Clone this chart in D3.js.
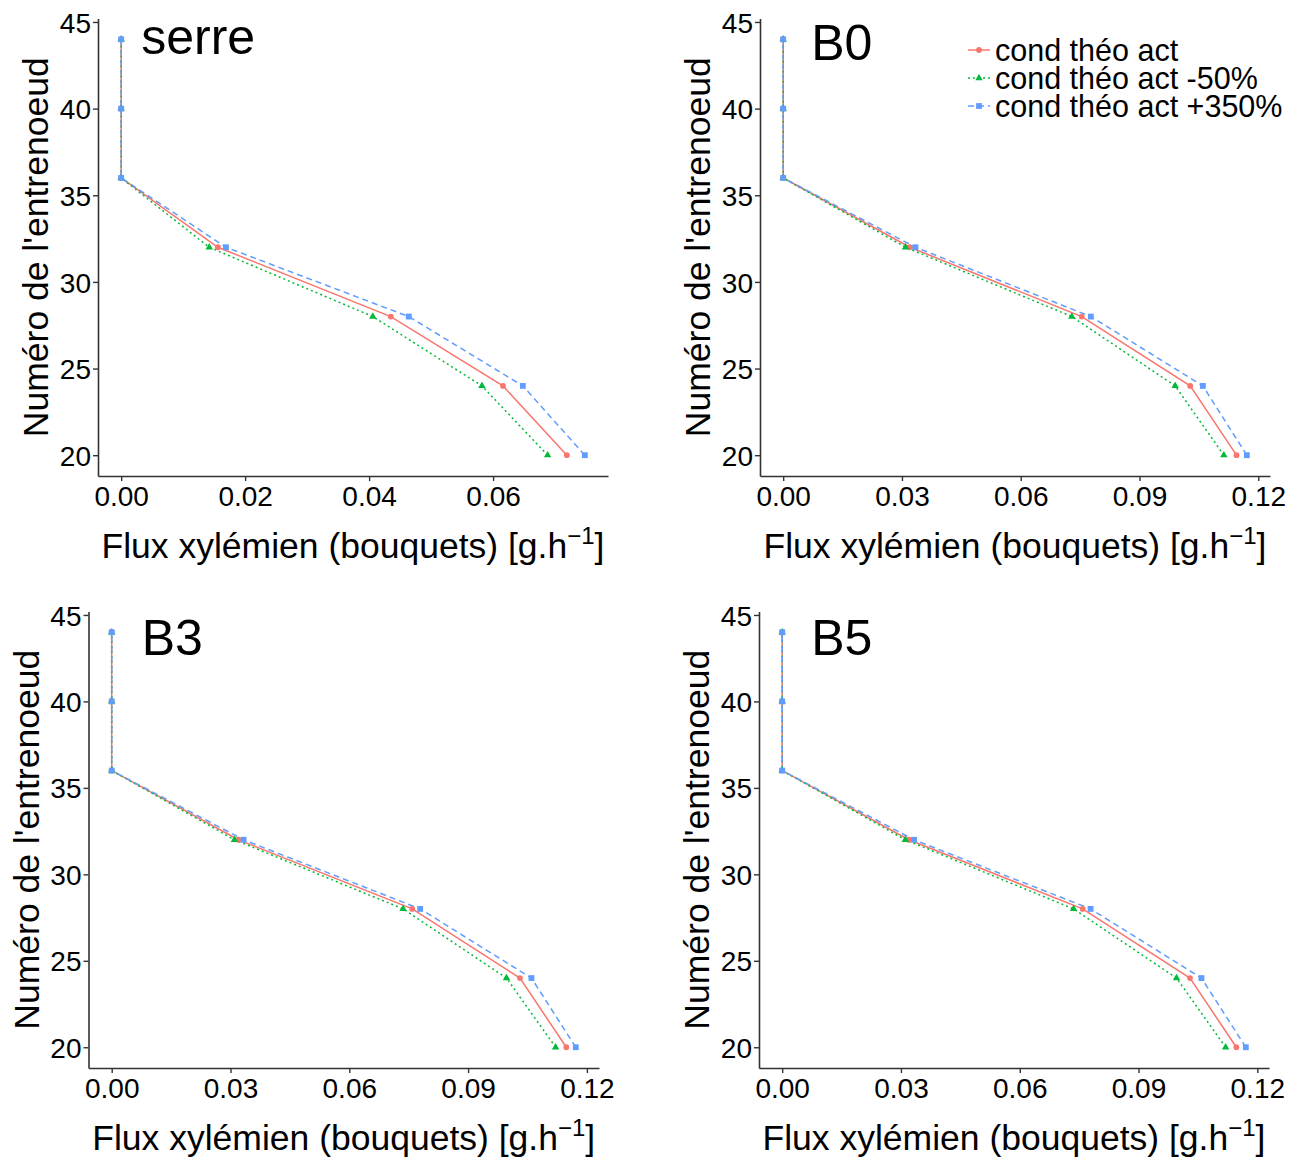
<!DOCTYPE html>
<html>
<head>
<meta charset="utf-8">
<script src="https://cdn.jsdelivr.net/npm/d3@7"></script>
<style>
  html, body { margin: 0; padding: 0; background: #fff; }
  svg { display: block; }
  text { font-family: "Liberation Sans", Arial, Helvetica, sans-serif; fill: #000; }
</style>
</head>
<body>
<svg id="chart" width="1298" height="1158"></svg>
<script>
// ---------- data ----------
const nodes = [20, 24, 28, 32, 36, 40, 44];
const seriesNames = ["cond théo act", "cond théo act -50%", "cond théo act +350%"];
const panelNames = ["serre", "B0", "B3", "B5"];

// x values (Flux xylémien) for each node, per panel and series
const serre_act   = [0.0719, 0.0616, 0.0435, 0.0156, 0, 0, 0];
const serre_m50   = [0.0688, 0.0582, 0.0406, 0.0142, 0, 0, 0];
const serre_p350  = [0.0748, 0.0648, 0.0464, 0.0169, 0, 0, 0];

const B0_act  = [0.1145, 0.1028, 0.0754, 0.0320, 0, 0, 0];
const B0_m50  = [0.1113, 0.0990, 0.0729, 0.0309, 0, 0, 0];
const B0_p350 = [0.1171, 0.1060, 0.0777, 0.0334, 0, 0, 0];

const B3_act  = [0.1148, 0.1031, 0.0759, 0.0320, 0, 0, 0];
const B3_m50  = [0.1121, 0.0997, 0.0736, 0.0310, 0, 0, 0];
const B3_p350 = [0.1172, 0.1060, 0.0779, 0.0333, 0, 0, 0];

const B5_act  = [0.1147, 0.1030, 0.0759, 0.0320, 0, 0, 0];
const B5_m50  = [0.1120, 0.0996, 0.0736, 0.0311, 0, 0, 0];
const B5_p350 = [0.1171, 0.1059, 0.0779, 0.0333, 0, 0, 0];

const yTicks = [20, 25, 30, 35, 40, 45];
const xTicksSerre = [0, 0.02, 0.04, 0.06];
const xTicksB = [0, 0.03, 0.06, 0.09, 0.12];

const xTitle = "Flux xylémien (bouquets) [g.h";
const yTitle = "Numéro de l'entrenoeud";

// ---------- styling ----------
const colors = ["#F8766D", "#00BA38", "#619CFF"];
const dashes = [null, "2,3", "6,4"];
const shapes = [d3.symbolCircle, d3.symbolTriangle, d3.symbolSquare];
const shapeSizes = [26, 24, 34];

const panels = [
  { name: panelNames[0], data: [serre_act, serre_m50, serre_p350], ticks: xTicksSerre, left: 98,  right: 608,  top: 18.5,  bottom: 476,  titleDx: 20, titleBase: 54 },
  { name: panelNames[1], data: [B0_act, B0_m50, B0_p350],          ticks: xTicksB,     left: 760, right: 1270, top: 18.5,  bottom: 476,  titleDx: 28, titleBase: 60 },
  { name: panelNames[2], data: [B3_act, B3_m50, B3_p350],          ticks: xTicksB,     left: 88.5, right: 599, top: 611.5, bottom: 1068, titleDx: 30, titleBase: 655 },
  { name: panelNames[3], data: [B5_act, B5_m50, B5_p350],          ticks: xTicksB,     left: 759, right: 1269, top: 611.5, bottom: 1068, titleDx: 29, titleBase: 655 }
];

const svg = d3.select("#chart");
const FONT = "'Liberation Sans', Arial, sans-serif";

panels.forEach(p => {
  const allX = p.data.flat();
  const ext = d3.extent(allX);
  const padX = (ext[1] - ext[0]) * 0.05;
  const x = d3.scaleLinear().domain([ext[0] - padX, ext[1] + padX]).range([p.left, p.right]);
  const yExt = d3.extent(nodes);
  const padY = (yExt[1] - yExt[0]) * 0.05;
  const y = d3.scaleLinear().domain([yExt[0] - padY, yExt[1] + padY]).range([p.bottom, p.top]);

  const g = svg.append("g");

  // axes
  const xAxis = d3.axisBottom(x).tickValues(p.ticks).tickFormat(d3.format(".2f")).tickSize(5).tickSizeOuter(0);
  const gx = g.append("g").attr("transform", `translate(0,${p.bottom})`).call(xAxis);
  gx.select(".domain").attr("stroke", "#333").attr("stroke-width", 1.6);
  gx.selectAll(".tick line").attr("stroke", "#333").attr("stroke-width", 1.4);
  gx.selectAll(".tick text").attr("font-size", 28).attr("fill", "#000").attr("dy", null).attr("y", 30)
    .style("font-family", FONT);

  const yAxis = d3.axisLeft(y).tickValues(yTicks).tickFormat(d3.format("d")).tickSize(5).tickSizeOuter(0);
  const gy = g.append("g").attr("transform", `translate(${p.left},0)`).call(yAxis);
  gy.select(".domain").attr("stroke", "#333").attr("stroke-width", 1.6);
  gy.selectAll(".tick line").attr("stroke", "#333").attr("stroke-width", 1.4);
  gy.selectAll(".tick text").attr("font-size", 28).attr("fill", "#000").attr("x", -7).attr("dy", "0.36em")
    .style("font-family", FONT);

  // lines
  const line = d3.line().x(d => x(d[0])).y(d => y(d[1]));
  p.data.forEach((vals, si) => {
    const pts = vals.map((v, i) => [v, nodes[i]]);
    g.append("path")
      .attr("d", line(pts))
      .attr("fill", "none")
      .attr("stroke", colors[si])
      .attr("stroke-width", 1.5)
      .attr("stroke-dasharray", dashes[si]);
  });
  // points
  p.data.forEach((vals, si) => {
    const sym = d3.symbol().type(shapes[si]).size(shapeSizes[si]);
    g.selectAll(null).data(vals.map((v, i) => [v, nodes[i]])).enter()
      .append("path")
      .attr("d", sym)
      .attr("transform", d => `translate(${x(d[0])},${y(d[1])})`)
      .attr("fill", colors[si]);
  });

  // panel title
  g.append("text")
    .attr("x", x(0) + p.titleDx)
    .attr("y", p.titleBase)
    .attr("font-size", 50)
    .text(p.name);

  // axis titles
  const xt = g.append("text")
    .attr("x", (p.left + p.right) / 2)
    .attr("y", p.bottom + 82)
    .attr("text-anchor", "middle")
    .attr("font-size", 35.5);
  xt.append("tspan").text(xTitle);
  xt.append("tspan").attr("font-size", 24).attr("dy", -14).text("\u22121");
  xt.append("tspan").attr("dy", 14).text("]");

  g.append("text")
    .attr("transform", `translate(${p.left - 50},${(p.top + p.bottom) / 2}) rotate(-90)`)
    .attr("text-anchor", "middle")
    .attr("font-size", 35.5)
    .text(yTitle);
});

// ---------- legend ----------
const legend = svg.append("g").attr("transform", "translate(968,50)");
seriesNames.forEach((name, si) => {
  const row = legend.append("g").attr("transform", `translate(0,${si * 28})`);
  row.append("line").attr("x1", 0).attr("x2", 22).attr("y1", 0).attr("y2", 0)
    .attr("stroke", colors[si]).attr("stroke-width", 1.5).attr("stroke-dasharray", dashes[si]);
  row.append("path").attr("d", d3.symbol().type(shapes[si]).size(shapeSizes[si]))
    .attr("transform", "translate(11,0)").attr("fill", colors[si]);
  row.append("text").attr("x", 27).attr("dy", "0.35em").attr("font-size", 30.5).text(name);
});
</script>
</body>
</html>
